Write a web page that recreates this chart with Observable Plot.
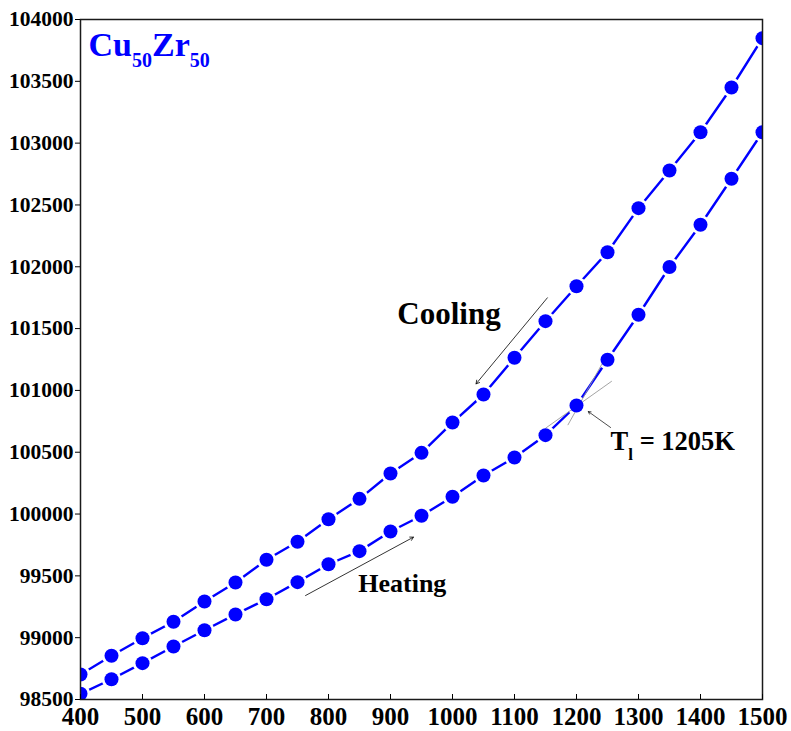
<!DOCTYPE html>
<html>
<head>
<meta charset="utf-8">
<script src="https://cdn.jsdelivr.net/npm/d3@7"></script>
<script src="https://cdn.jsdelivr.net/npm/@observablehq/plot@0.6"></script>
<style>
  body { margin: 0; background: #fff; }
  #chart svg { display: block; }
</style>
</head>
<body>
<div id="chart"></div>
<script>
// Temperature steps (K) shared by both runs
const temperature = [400, 450, 500, 550, 600, 650, 700, 750, 800, 850, 900, 950,
  1000, 1050, 1100, 1150, 1200, 1250, 1300, 1350, 1400, 1450, 1500];

// Values recorded while cooling from the melt
const cooling = [98702, 98854, 98996, 99129, 99293, 99446, 99630, 99776, 99958, 100123,
  100328, 100495, 100740, 100967, 101264, 101560, 101843, 102118, 102474, 102779,
  103088, 103450, 103849];

// Values recorded while heating the glass
const heating = [98546, 98664, 98794, 98929, 99060, 99188, 99311, 99449, 99594, 99700,
  99859, 99986, 100140, 100312, 100457, 100638, 100878, 101248, 101612, 101998,
  102340, 102712, 103088];

const xTicks = [400, 500, 600, 700, 800, 900, 1000, 1100, 1200, 1300, 1400, 1500];
const yTicks = [98500, 99000, 99500, 100000, 100500, 101000, 101500, 102000, 102500,
  103000, 103500, 104000];

// Liquidus temperature marked where the heating curve changes slope
const liquidusT = 1205;

const rows = [
  ...temperature.map((t, i) => ({T: t, v: cooling[i], run: "Cooling"})),
  ...temperature.map((t, i) => ({T: t, v: heating[i], run: "Heating"}))
];

const blue = "#0000ff";
const serif = "'Liberation Serif', 'Times New Roman', 'DejaVu Serif', serif";

// Tangents drawn through the kink of the heating curve
const tangents = [
  {x1: 1186, y1: 100719, x2: 1250, y2: 101294},
  {x1: 1150, y1: 100694, x2: 1257, y2: 101075}
];

const chart = Plot.plot({
  width: 791,
  height: 731,
  marginLeft: 80,
  marginRight: 29,
  marginTop: 19,
  marginBottom: 32,
  style: {fontFamily: serif, fontWeight: "bold", color: "#000", background: "#fff"},
  x: {domain: [400, 1500], label: null},
  y: {domain: [98500, 104000], label: null},
  marks: [
    Plot.line(rows, {x: "T", y: "v", z: "run", stroke: blue, strokeWidth: 2.4, clip: true}),
    // white halos leave a small gap between the line and each symbol
    Plot.dot(rows, {x: "T", y: "v", r: 9.8, fill: "#fff", clip: true}),
    Plot.link(tangents, {x1: "x1", y1: "y1", x2: "x2", y2: "y2", stroke: "#9a9a9a", strokeWidth: 0.9}),
    Plot.dot(rows, {x: "T", y: "v", r: 7, fill: blue, clip: true}),

    // direction arrows and the liquidus pointer
    Plot.arrow([{x1: 1153, y1: 101749, x2: 1038, y2: 101053}],
      {x1: "x1", y1: "y1", x2: "x2", y2: "y2", stroke: "#000", strokeWidth: 0.8, headLength: 7}),
    Plot.arrow([{x1: 763, y1: 99341, x2: 937, y2: 99813}],
      {x1: "x1", y1: "y1", x2: "x2", y2: "y2", stroke: "#000", strokeWidth: 0.8, headLength: 7}),
    Plot.arrow([{x1: 1255, y1: 100700, x2: 1219, y2: 100829}],
      {x1: "x1", y1: "y1", x2: "x2", y2: "y2", stroke: "#000", strokeWidth: 0.7, headLength: 6}),

    Plot.text(["Cooling"], {x: 911, y: 101539, text: d => d, textAnchor: "start",
      lineAnchor: "bottom", fontSize: 31, fill: "#000"}),
    Plot.text(["Heating"], {x: 848, y: 99368, text: d => d, textAnchor: "start",
      lineAnchor: "bottom", fontSize: 26, fill: "#000"}),
    Plot.text([`Tl = ${liquidusT}K`], {x: 1255, y: 100522, text: d => d, textAnchor: "start",
      lineAnchor: "bottom", fontSize: 26.5, fill: "#000", className: "liquidus"}),
    Plot.text(["Cu50Zr50"], {frameAnchor: "top-left", dx: 8, dy: 36, text: d => d,
      textAnchor: "start", lineAnchor: "bottom", fontSize: 34, fill: blue, className: "alloy"}),

    Plot.frame({stroke: "#1a1a1a", strokeWidth: 1.5}),
    Plot.axisY({ticks: yTicks, tickSize: 5, tickPadding: 2, fontSize: 21.5,
      tickFormat: d => String(d), label: null}),
    Plot.axisX({ticks: xTicks, tickSize: 0, tickPadding: 8, fontSize: 25,
      tickFormat: d => String(d), label: null}),
    Plot.axisX({ticks: xTicks, tickSize: -5, tickFormat: () => "", label: null})
  ]
});

// Rebuild a label as runs of normal and subscript text
function subscripted(selector, parts, subSize, shift) {
  d3.select(chart).selectAll(`g.${selector} text`).each(function () {
    const el = d3.select(this);
    el.text(null);
    let low = false;
    for (const [str, sub] of parts) {
      const span = el.append("tspan").text(str);
      if (sub && !low) { span.attr("dy", shift).attr("font-size", subSize); low = true; }
      else if (!sub && low) { span.attr("dy", -shift); low = false; }
      else if (sub) span.attr("font-size", subSize);
    }
  });
}
subscripted("alloy", [["Cu", false], ["50", true], ["Zr", false], ["50", true]], 20, 11);
subscripted("liquidus", [["T", false], ["l", true], [` = ${liquidusT}K`, false]], 17, 10);

document.getElementById("chart").append(chart);
</script>
</body>
</html>
